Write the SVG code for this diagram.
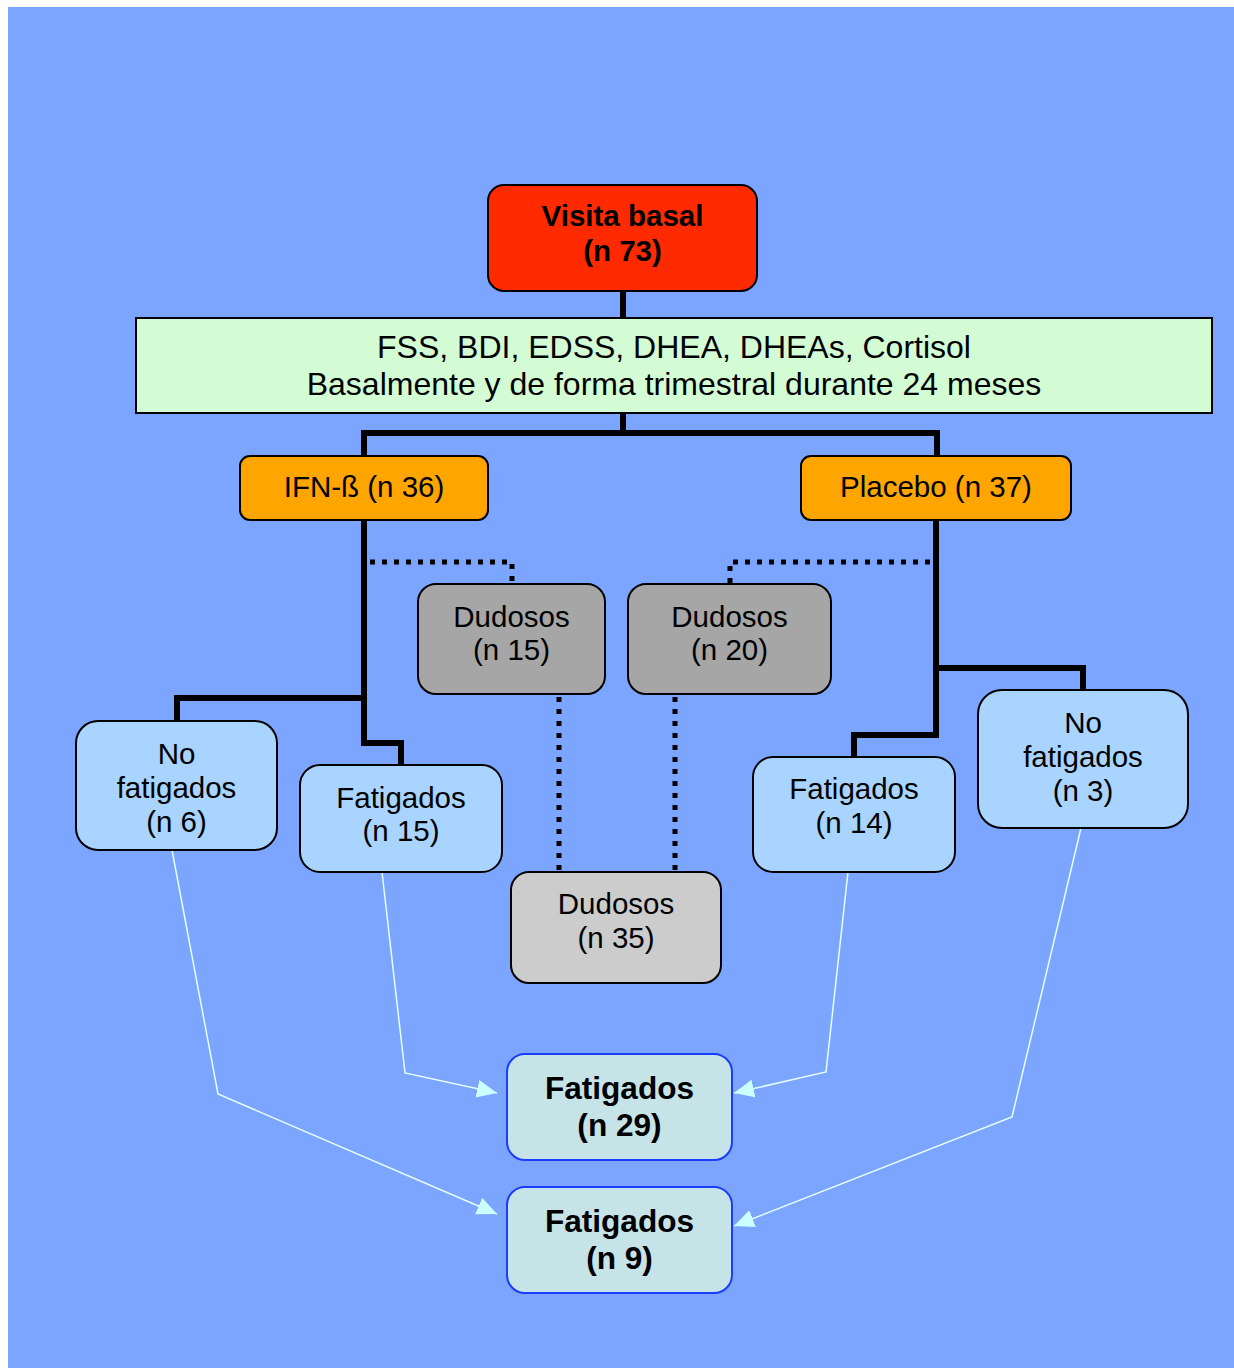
<svg xmlns="http://www.w3.org/2000/svg" width="1234" height="1368" viewBox="0 0 1234 1368">
<defs>
<style>
text{font-family:"Liberation Sans",Arial,sans-serif;font-size:29.5px;fill:#000;text-anchor:middle}
.b{font-weight:bold}
.g{font-size:32px}
.big{font-size:31.6px;font-weight:bold}
.box{stroke:#000;stroke-width:2}
.blue{fill:#A8D4FF}
.gray{fill:#A6A6A6}
.lgray{fill:#CCCCCC}
.res{fill:#C6E4E8;stroke:#1A3CFF;stroke-width:2}
.solid{fill:none;stroke:#000;stroke-width:6;stroke-linejoin:miter;stroke-linecap:butt}
.dot{fill:none;stroke:#000;stroke-width:5;stroke-dasharray:5 7}
.arr{fill:none;stroke:#E6FFFF;stroke-width:1.5;marker-end:url(#ah)}
</style>
<marker id="ah" markerUnits="userSpaceOnUse" markerWidth="22" markerHeight="20" refX="20" refY="9" orient="auto" viewBox="0 0 22 20">
<path d="M0,0 L20,9 L0,18 z" fill="#CCFFFF"/>
</marker>
</defs>
<rect x="0" y="0" width="1234" height="1368" fill="#FFFFFF"/>
<rect x="8" y="7" width="1226" height="1361" fill="#7BA5FF"/>

<g id="connectors">
<path class="solid" d="M623,291 V318"/>
<path class="solid" d="M623,413 V433 M364,456 V433 H937 V456"/>
<path class="solid" d="M364,520 V743 H401 V765 M364,698 H177 V721"/>
<path class="solid" d="M936,520 V735 H854 V757 M936,668 H1083 V690"/>
<path class="dot" d="M370,562 H512 V584"/>
<path class="dot" d="M930,562 H730 V584"/>
<path class="dot" d="M559,697 V872"/>
<path class="dot" d="M675,697 V872"/>
<path class="arr" d="M172,850 L218,1094 L497,1214"/>
<path class="arr" d="M382,872 L405,1073 L497,1093"/>
<path class="arr" d="M848,872 L826,1072 L734,1093"/>
<path class="arr" d="M1081,828 L1012,1117 L734,1226"/>
</g>

<g id="visita">
<rect class="box" x="488" y="185" width="269" height="106" rx="16" fill="#FF2A00"/>
<text class="b" x="622.5" y="226">Visita basal</text>
<text class="b" x="622.5" y="261">(n 73)</text>
</g>

<g id="mediciones">
<rect class="box" x="136" y="318" width="1076" height="95" fill="#D4FCD4"/>
<text class="g" x="674" y="358">FSS, BDI, EDSS, DHEA, DHEAs, Cortisol</text>
<text class="g" x="674" y="395">Basalmente y de forma trimestral durante 24 meses</text>
</g>

<g id="ifn">
<rect class="box" x="240" y="456" width="248" height="64" rx="10" fill="#FFA500"/>
<text x="364" y="497">IFN-ß (n 36)</text>
</g>

<g id="placebo">
<rect class="box" x="801" y="456" width="270" height="64" rx="10" fill="#FFA500"/>
<text x="936" y="497">Placebo (n 37)</text>
</g>

<g id="dudosos15">
<rect class="box gray" x="418" y="584" width="187" height="110" rx="18"/>
<text x="511.5" y="627">Dudosos</text>
<text x="511.5" y="660">(n 15)</text>
</g>

<g id="dudosos20">
<rect class="box gray" x="628" y="584" width="203" height="110" rx="18"/>
<text x="729.5" y="627">Dudosos</text>
<text x="729.5" y="660">(n 20)</text>
</g>

<g id="nofat6">
<rect class="box blue" x="76" y="721" width="201" height="129" rx="22"/>
<text x="176.5" y="764">No</text>
<text x="176.5" y="798">fatigados</text>
<text x="176.5" y="832">(n 6)</text>
</g>

<g id="fat15">
<rect class="box blue" x="300" y="765" width="202" height="107" rx="20"/>
<text x="401" y="808">Fatigados</text>
<text x="401" y="841">(n 15)</text>
</g>

<g id="fat14">
<rect class="box blue" x="753" y="757" width="202" height="115" rx="20"/>
<text x="854" y="799">Fatigados</text>
<text x="854" y="833">(n 14)</text>
</g>

<g id="nofat3">
<rect class="box blue" x="978" y="690" width="210" height="138" rx="24"/>
<text x="1083" y="733">No</text>
<text x="1083" y="767">fatigados</text>
<text x="1083" y="801">(n 3)</text>
</g>

<g id="dudosos35">
<rect class="box lgray" x="511" y="872" width="210" height="111" rx="18"/>
<text x="616" y="914">Dudosos</text>
<text x="616" y="948">(n 35)</text>
</g>

<g id="fat29">
<rect class="res" x="507" y="1054" width="225" height="106" rx="18"/>
<text class="big" x="619.5" y="1099">Fatigados</text>
<text class="big" x="619.5" y="1136">(n 29)</text>
</g>

<g id="fat9">
<rect class="res" x="507" y="1187" width="225" height="106" rx="18"/>
<text class="big" x="619.5" y="1232">Fatigados</text>
<text class="big" x="619.5" y="1269">(n 9)</text>
</g>
</svg>
